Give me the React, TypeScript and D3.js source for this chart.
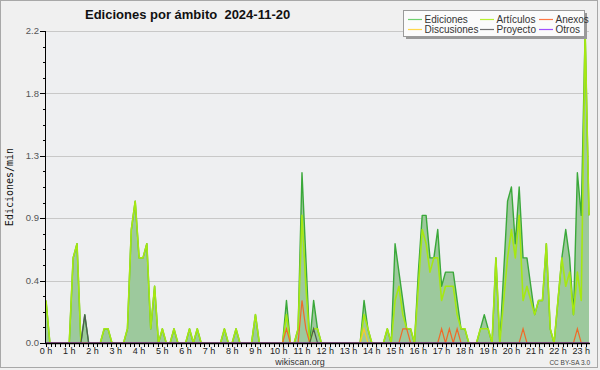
import React from 'react';
import * as d3 from 'd3';

// 10-minute samples, edits per minute, from 0 h to 23 h 20
const ediciones = [
  0.3, 0, 0, 0, 0, 0,
  0, 0.6, 0.7, 0, 0.2, 0,
  0, 0, 0, 0.1, 0.1, 0,
  0, 0, 0, 0.1, 0.8, 1.0,
  0.6, 0.6, 0.7, 0.1, 0.4, 0,
  0.1, 0, 0, 0.1, 0, 0,
  0, 0.1, 0, 0.1, 0, 0,
  0, 0, 0, 0, 0.1, 0,
  0, 0.1, 0, 0, 0, 0,
  0.2, 0, 0, 0, 0, 0,
  0, 0, 0.3, 0, 0, 0.1,
  1.2, 0.6, 0, 0.3, 0.1, 0,
  0, 0, 0, 0, 0, 0,
  0, 0, 0, 0, 0.3, 0.1,
  0, 0, 0, 0, 0.1, 0,
  0.7, 0.5, 0.3, 0.1, 0.1, 0,
  0.5, 0.9, 0.9, 0.6, 0.6, 0.8,
  0.4, 0.5, 0.5, 0.5, 0.3, 0.1,
  0.1, 0, 0, 0, 0.1, 0.2,
  0.1, 0, 0.6, 0, 0.5, 1.0,
  1.1, 0.7, 1.1, 0.6, 0.6, 0.4,
  0.2, 0.3, 0.3, 0.7, 0.1, 0,
  0.3, 0.6, 0.8, 0.6, 0.2, 1.2,
  0.9, 2.2, 0.9,
];

const articulos = [
  0.3, 0, 0, 0, 0, 0,
  0, 0.6, 0.7, 0, 0, 0,
  0, 0, 0, 0.1, 0.1, 0,
  0, 0, 0, 0.1, 0.8, 1.0,
  0.6, 0.6, 0.7, 0.1, 0.4, 0,
  0.1, 0, 0, 0.1, 0, 0,
  0, 0.1, 0, 0.1, 0, 0,
  0, 0, 0, 0, 0.1, 0,
  0, 0.1, 0, 0, 0, 0,
  0.2, 0, 0, 0, 0, 0,
  0, 0, 0.2, 0, 0, 0.1,
  0.9, 0.4, 0, 0.1, 0.1, 0,
  0, 0, 0, 0, 0, 0,
  0, 0, 0, 0, 0.2, 0.1,
  0, 0, 0, 0, 0.1, 0,
  0.3, 0.4, 0.2, 0.1, 0.1, 0,
  0.4, 0.8, 0.7, 0.5, 0.6, 0.6,
  0.3, 0.4, 0.4, 0.4, 0.2, 0.1,
  0.1, 0, 0, 0, 0.1, 0.1,
  0.1, 0, 0.6, 0, 0.3, 0.6,
  0.8, 0.6, 0.9, 0.3, 0.4, 0.3,
  0.2, 0.3, 0.3, 0.7, 0.1, 0,
  0.3, 0.6, 0.4, 0.5, 0.2, 0.5,
  0.3, 2.2, 0.9,
];

const anexos = [
  0, 0, 0, 0, 0, 0,
  0, 0, 0, 0, 0, 0,
  0, 0, 0, 0, 0, 0,
  0, 0, 0, 0, 0, 0,
  0, 0, 0, 0, 0, 0,
  0, 0, 0, 0, 0, 0,
  0, 0, 0, 0, 0, 0,
  0, 0, 0, 0, 0, 0,
  0, 0, 0, 0, 0, 0,
  0, 0, 0, 0, 0, 0,
  0, 0, 0.1, 0, 0, 0,
  0.3, 0.1, 0, 0, 0, 0,
  0, 0, 0, 0, 0, 0,
  0, 0, 0, 0, 0, 0,
  0, 0, 0, 0, 0, 0,
  0, 0, 0.1, 0.1, 0, 0,
  0, 0, 0, 0, 0, 0,
  0.1, 0, 0.1, 0, 0.1, 0,
  0, 0, 0, 0, 0, 0,
  0, 0, 0, 0, 0, 0,
  0, 0, 0, 0.1, 0, 0,
  0, 0, 0, 0, 0, 0,
  0, 0, 0, 0, 0, 0.1,
  0, 0, 0,
];

const discusiones = [
  0, 0, 0, 0, 0, 0,
  0, 0, 0, 0, 0, 0,
  0, 0, 0, 0, 0, 0,
  0, 0, 0, 0, 0, 0,
  0, 0, 0, 0, 0, 0,
  0, 0, 0, 0, 0, 0,
  0, 0, 0, 0, 0, 0,
  0, 0, 0, 0, 0, 0,
  0, 0, 0, 0, 0, 0,
  0, 0, 0, 0, 0, 0,
  0, 0, 0, 0, 0, 0,
  0, 0, 0, 0, 0, 0,
  0, 0, 0, 0, 0, 0,
  0, 0, 0, 0, 0.1, 0,
  0, 0, 0, 0, 0, 0,
  0, 0, 0, 0, 0, 0,
  0, 0, 0, 0, 0, 0,
  0, 0, 0, 0, 0, 0,
  0, 0, 0, 0, 0, 0,
  0, 0, 0, 0, 0, 0,
  0, 0, 0, 0, 0, 0,
  0, 0, 0, 0, 0, 0,
  0, 0, 0, 0, 0, 0,
  0, 0, 0,
];

const proyecto = [
  0, 0, 0, 0, 0, 0,
  0, 0, 0, 0, 0.2, 0,
  0, 0, 0, 0, 0, 0,
  0, 0, 0, 0, 0, 0,
  0, 0, 0, 0, 0, 0,
  0, 0, 0, 0, 0, 0,
  0, 0, 0, 0, 0, 0,
  0, 0, 0, 0, 0, 0,
  0, 0, 0, 0, 0, 0,
  0, 0, 0, 0, 0, 0,
  0, 0, 0, 0, 0, 0,
  0, 0, 0, 0.1, 0, 0,
  0, 0, 0, 0, 0, 0,
  0, 0, 0, 0, 0, 0,
  0, 0, 0, 0, 0, 0,
  0, 0, 0, 0, 0, 0,
  0, 0, 0, 0, 0, 0,
  0, 0, 0, 0, 0, 0,
  0, 0, 0, 0, 0, 0,
  0, 0, 0, 0, 0, 0,
  0, 0, 0, 0, 0, 0,
  0, 0, 0, 0, 0, 0,
  0, 0, 0, 0, 0, 0,
  0, 0, 0,
];

const otros = [
  0, 0, 0, 0, 0, 0,
  0, 0, 0, 0, 0, 0,
  0, 0, 0, 0, 0, 0,
  0, 0, 0, 0, 0, 0,
  0, 0, 0, 0, 0, 0,
  0, 0, 0, 0, 0, 0,
  0, 0, 0, 0, 0, 0,
  0, 0, 0, 0, 0, 0,
  0, 0, 0, 0, 0, 0,
  0, 0, 0, 0, 0, 0,
  0, 0, 0, 0, 0, 0,
  0, 0, 0, 0, 0, 0,
  0, 0, 0, 0, 0, 0,
  0, 0, 0, 0, 0, 0,
  0, 0, 0, 0, 0, 0,
  0, 0, 0, 0, 0, 0,
  0, 0, 0, 0, 0, 0,
  0, 0, 0, 0, 0, 0,
  0, 0, 0, 0, 0, 0,
  0, 0, 0, 0, 0, 0,
  0, 0, 0, 0, 0, 0,
  0, 0, 0, 0, 0, 0,
  0, 0, 0, 0, 0, 0,
  0, 0, 0,
];

const hourTicks = d3.range(24);
const hourLabels = hourTicks.map((h) => `${h} h`);
const yTicks = [0, 0.44, 0.88, 1.32, 1.76, 2.2];
const yTickLabels = ['0.0', '0.4', '0.9', '1.3', '1.8', '2.2'];

const title = 'Ediciones por ámbito  2024-11-20';
const yTitle = 'Ediciones/min';

const COL = {
  ed: '#3aa83a',
  edFill: '#9dc99d',
  art: '#a6e812',
  anexos: '#f06a28',
  disc: '#f7cc2a',
  proy: '#505a50',
  otros: '#a040f0',
};

const legendItems = [
  { label: 'Ediciones', color: '#6fd06f', col: 0, row: 0 },
  { label: 'Artículos', color: '#b8f030', col: 1, row: 0 },
  { label: 'Anexos', color: '#ff7744', col: 2, row: 0 },
  { label: 'Discusiones', color: '#ffd84a', col: 0, row: 1 },
  { label: 'Proyecto', color: '#707070', col: 1, row: 1 },
  { label: 'Otros', color: '#a050ff', col: 2, row: 1 },
];

export default function App() {
  const W = 600;
  const H = 370;
  const N = ediciones.length;
  const left = 46;
  const right = 589;
  const bottom = 343;
  const top = 31;

  const x = d3.scaleLinear().domain([0, (N - 1) / 6]).range([left, right]);
  const y = d3.scaleLinear().domain([0, 2.2]).range([bottom, top]);
  const tx = (i: number) => x(i / 6);

  const area = d3
    .area<number>()
    .x((_, i) => tx(i))
    .y0(y(0))
    .y1((d) => y(d));
  const line = d3
    .line<number>()
    .x((_, i) => tx(i))
    .y((d) => y(d));

  const minorY = d3.range(0, 21).map((k) => k * 0.11);
  const minorX = d3.range(0, Math.floor(x.domain()[1] * 5) + 1).map((k) => k / 5);

  const legendX = [408, 480, 539];
  const legendY = [19.5, 29.5];

  return (
    <svg
      width={W}
      height={H}
      style={{ position: 'fixed', left: 0, top: 0, display: 'block' }}
      fontFamily="'Liberation Sans', Arial, sans-serif"
    >
      <rect x={0} y={0} width={W} height={H} fill="#f0f0f0" />
      <rect x={0.5} y={0.5} width={597} height={367} fill="none" stroke="#a8a8a8" />
      <rect x={left} y={top} width={right - left} height={bottom - top} fill="#eeeff1" />

      {/* grid */}
      {yTicks.slice(1).map((v) => (
        <line key={v} x1={left} x2={right} y1={Math.round(y(v)) + 0.5} y2={Math.round(y(v)) + 0.5} stroke="#c8c8c8" />
      ))}

      {/* series */}
      <path d={area(ediciones) || ''} fill={COL.edFill} />
      <path d={line(ediciones) || ''} fill="none" stroke={COL.ed} strokeWidth={1.4} strokeLinejoin="round" />
      <path d={line(articulos) || ''} fill="none" stroke={COL.art} strokeWidth={1.6} strokeLinejoin="round" />
      <path d={line(discusiones) || ''} fill="none" stroke={COL.disc} strokeWidth={1.2} />
      <path d={line(anexos) || ''} fill="none" stroke={COL.anexos} strokeWidth={1.2} />
      <path d={line(proyecto) || ''} fill="none" stroke={COL.proy} strokeWidth={1.2} />
      <path d={line(otros) || ''} fill="none" stroke={COL.otros} strokeWidth={1.2} />

      {/* y axis */}
      <line x1={left - 0.5} x2={left - 0.5} y1={top} y2={bottom + 1} stroke="#000" />
      {minorY.map((v) => (
        <line key={'my' + v} x1={left - 3} x2={left} y1={Math.round(y(v)) + 0.5} y2={Math.round(y(v)) + 0.5} stroke="#000" />
      ))}
      {yTicks.map((v, k) => (
        <g key={'y' + v}>
          <line x1={left - 6} x2={left} y1={Math.round(y(v)) + 0.5} y2={Math.round(y(v)) + 0.5} stroke="#000" />
          <text x={left - 7} y={y(v) + 3.2} fontSize={9.5} textAnchor="end" fill="#555">
            {yTickLabels[k]}
          </text>
        </g>
      ))}

      {/* x axis */}
      <line x1={left - 1} x2={right + 1} y1={bottom + 0.5} y2={bottom + 0.5} stroke="#000" strokeWidth={1.5} />
      {minorX.map((h) => (
        <line key={'mx' + h} x1={Math.round(x(h)) + 0.5} x2={Math.round(x(h)) + 0.5} y1={bottom} y2={bottom + 4} stroke="#000" />
      ))}
      {hourTicks.map((h, k) => (
        <text key={'xl' + h} x={x(h)} y={353.5} fontSize={9} textAnchor="middle" fill="#222">
          {hourLabels[k]}
        </text>
      ))}

      {/* titles */}
      <text x={85} y={18.5} fontSize={13} fontWeight="bold" fill="#111" style={{ whiteSpace: 'pre' }}>
        {title}
      </text>
      <text
        transform={`translate(13,${(top + bottom) / 2}) rotate(-90)`}
        fontFamily="'DejaVu Sans Mono', monospace"
        fontSize={10}
        textAnchor="middle"
        fill="#111"
      >
        {yTitle}
      </text>
      <text x={300} y={364.5} fontSize={9} textAnchor="middle" fill="#333">
        wikiscan.org
      </text>
      <text x={590} y={365} fontSize={6.5} textAnchor="end" fill="#444">
        CC BY-SA 3.0
      </text>

      {/* legend */}
      <rect x={406} y={13} width={181} height={26} fill="#999" />
      <rect x={403.5} y={10.5} width={181} height={26} fill="#fbfbfb" stroke="#9a9a9a" />
      {legendItems.map((it) => (
        <g key={it.label}>
          <line
            x1={legendX[it.col]}
            x2={legendX[it.col] + 14}
            y1={legendY[it.row]}
            y2={legendY[it.row]}
            stroke={it.color}
            strokeWidth={1.2}
          />
          <text x={legendX[it.col] + 16.5} y={legendY[it.row] + 3.3} fontSize={10} fill="#333">
            {it.label}
          </text>
        </g>
      ))}
    </svg>
  );
}
